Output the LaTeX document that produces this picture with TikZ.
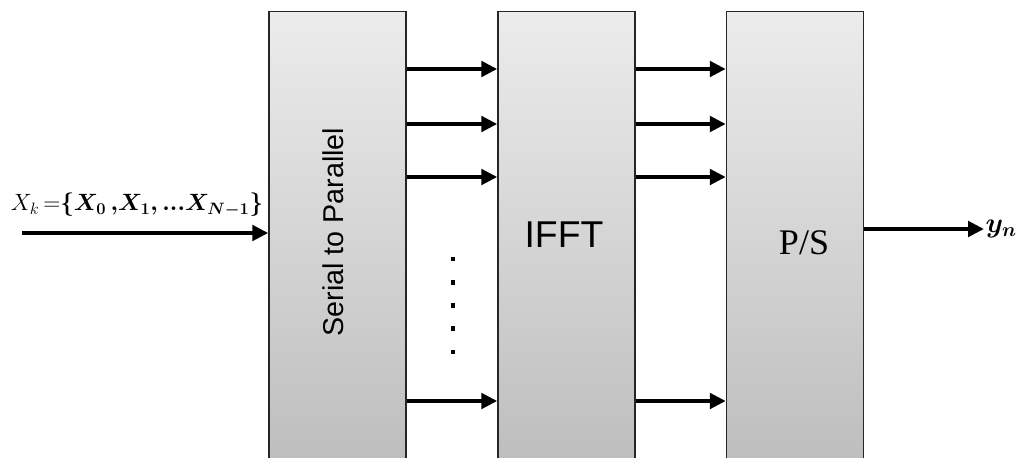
\RequirePackage{fix-cm}
\documentclass[tikz,border=0pt]{standalone}
\usepackage{amsmath}
\usepackage{fontspec}
\setmainfont{Liberation Serif}
\newfontfamily\arialfont{Liberation Sans}
\usetikzlibrary{arrows.meta}
\tikzstyle{block} = [rectangle, minimum width=102.75pt, minimum height=345pt, anchor=north, draw=black!85, line width=1.1pt, top color=gray!15, bottom color=gray!52, inner sep=0pt]
\tikzstyle{arrow} = [line width=3.3pt, -{Triangle[length=12pt, width=11.5pt]}]
\tikzstyle{dot} = [rectangle, fill=black, minimum size=3.6pt, inner sep=0pt]

\begin{document}
\begin{tikzpicture}[x=0.75pt, y=-0.75pt]
    \useasboundingbox (0,0) rectangle (1024,457);
    \clip (0,0) rectangle (1024,457);

    % the three stages
    \node (s2p)  [block] at (337.5,11) {};
    \node (ifft) [block] at (566.5,11) {};
    \node (ps)   [block] at (795,11)   {};

    \node (s2ptext) [rotate=90] at (333,232)
      {\arialfont\fontsize{21.5}{24}\selectfont Serial to Parallel};
    \node (iffttext) at (564,235)
      {\arialfont\fontsize{28}{32}\selectfont IFFT};
    \node (pstext) at (804,243)
      {\fontsize{27}{30}\selectfont P/S};

    % input and output
    \coordinate (in) at (22,233);
    \node (xk) [scale=0.93, transform shape, inner sep=0pt] at (137,205)
      {\fontsize{19}{22}\selectfont $X_k\,{=}\boldsymbol{\{X_{\mathbf{0}}\,{,}X_{\mathbf{1}}{,}\,{\ldotp}{\ldotp}{\ldotp}X_{N-\mathbf{1}}\}}$};
    \node (yn) [anchor=west, inner sep=1pt] at (984,229)
      {\fontsize{21}{24}\selectfont $\boldsymbol{y_n}$};

    \draw [arrow] (in) -- (s2p.west |- in);
    \draw [arrow] (ps.east |- yn) -- (yn.west);

    % parallel branches
    \foreach \yy in {69,124,177,401} {
      \draw [arrow] (s2p.east |- 0,\yy)  -- (ifft.west |- 0,\yy);
      \draw [arrow] (ifft.east |- 0,\yy) -- (ps.west |- 0,\yy);
    }
    \foreach \yy in {259,282.25,305.5,328.75,352}
      \node [dot] at (453,\yy) {};
  \end{tikzpicture}
\end{document}
